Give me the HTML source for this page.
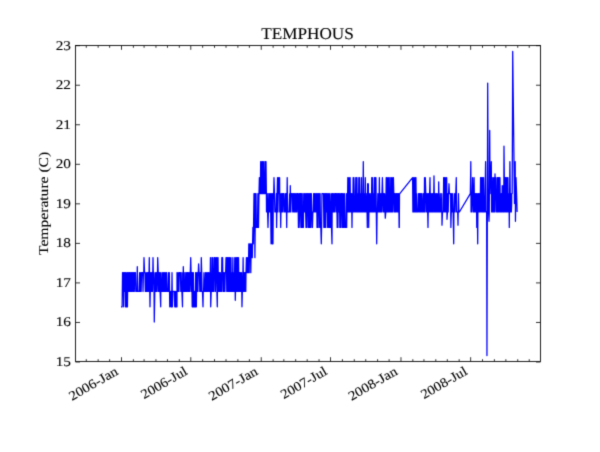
<!DOCTYPE html>
<html><head><meta charset="utf-8"><title>TEMPHOUS</title>
<style>
html,body{margin:0;padding:0;background:#fff;}
body{width:600px;height:452px;overflow:hidden;}
svg{display:block;}
text{text-rendering:geometricPrecision;font-family:"Liberation Serif",serif;font-size:13.4px;fill:#000;stroke:#000;stroke-width:0.1px;}
.tk{stroke:#000;stroke-width:0.8;}
.fr{fill:none;stroke:#111;stroke-width:0.92;}
.dl{fill:none;stroke:#0000ff;stroke-width:1.25;stroke-linejoin:round;stroke-linecap:butt;}
</style></head><body>
<svg width="600" height="452" viewBox="0 0 600 452">
<defs><filter id="sf" x="0" y="0" width="600" height="452" filterUnits="userSpaceOnUse"><feConvolveMatrix order="3" kernelMatrix="0.0169 0.0962 0.0169 0.0962 0.5476 0.0962 0.0169 0.0962 0.0169" divisor="1" edgeMode="duplicate" preserveAlpha="false"/></filter></defs>
<rect x="0" y="0" width="600" height="452" fill="#ffffff"/>
<g filter="url(#sf)">
<path class="dl" d="M121.00,306.79 L121.38,306.79 L121.76,306.79 L122.14,306.79 L122.52,272.62 L122.90,272.62 L123.28,272.62 L123.66,306.79 L124.04,272.62 L124.42,272.62 L124.80,291.39 L125.18,272.62 L125.56,306.79 L125.94,272.62 L126.32,306.79 L126.70,306.79 L127.08,272.62 L127.46,306.79 L127.84,272.62 L128.22,291.39 L128.60,272.62 L128.98,291.39 L129.36,272.62 L129.74,272.62 L130.12,291.39 L130.50,272.62 L130.88,291.39 L131.26,272.62 L131.64,291.39 L132.02,272.62 L132.40,272.62 L132.78,291.39 L133.16,272.62 L133.54,291.39 L133.92,272.62 L134.30,291.39 L134.68,272.62 L135.06,272.62 L135.44,272.62 L135.82,291.39 L136.20,291.39 L136.58,291.39 L136.96,291.39 L137.30,266.70 L137.72,291.39 L138.10,291.39 L138.48,291.39 L138.86,291.39 L139.24,291.39 L139.62,272.62 L140.00,291.39 L140.38,291.39 L140.76,272.62 L141.14,291.39 L141.52,272.62 L141.90,272.62 L142.28,272.62 L142.66,272.62 L143.04,291.39 L143.42,272.62 L143.80,272.62 L144.00,257.62 L144.56,272.62 L144.94,272.62 L145.32,291.39 L145.70,291.39 L146.08,272.62 L146.46,291.39 L146.84,291.39 L147.22,272.62 L147.60,291.39 L147.98,272.62 L148.36,272.62 L148.74,291.39 L149.30,257.62 L149.50,272.62 L150.00,306.79 L150.26,291.39 L150.64,272.62 L151.02,291.39 L151.40,272.62 L151.78,291.39 L152.16,272.62 L152.54,291.39 L153.00,257.62 L153.30,272.62 L153.68,272.62 L154.06,291.39 L154.30,322.00 L154.82,291.39 L155.20,272.62 L155.58,291.39 L155.96,291.39 L156.34,272.62 L156.72,291.39 L157.10,291.39 L157.48,272.62 L157.70,257.62 L158.24,272.62 L158.62,291.39 L159.00,272.62 L159.38,291.39 L159.76,272.62 L160.14,291.39 L160.70,306.79 L160.90,272.62 L161.28,291.39 L161.66,291.39 L162.04,291.39 L162.42,272.62 L162.80,291.39 L163.18,291.39 L163.56,272.62 L163.94,291.39 L164.32,272.62 L164.70,291.39 L165.08,272.62 L165.46,291.39 L165.84,291.39 L166.22,272.62 L166.60,272.62 L166.98,291.39 L167.36,291.39 L167.74,291.39 L168.12,291.39 L168.50,272.62 L168.88,291.39 L169.00,291.39 L169.30,272.62 L169.76,306.79 L170.14,306.79 L170.52,291.39 L170.90,291.39 L171.28,306.79 L171.66,306.79 L172.00,272.62 L172.42,306.79 L172.80,291.39 L173.18,291.39 L173.56,291.39 L173.94,291.39 L174.32,291.39 L174.70,306.79 L175.08,291.39 L175.46,306.79 L175.84,291.39 L176.22,306.79 L176.60,291.39 L176.98,306.79 L177.00,272.62 L177.38,291.39 L177.76,291.39 L178.14,272.62 L178.52,291.39 L178.90,291.39 L179.28,272.62 L179.66,272.62 L180.04,272.62 L180.42,272.62 L180.80,291.39 L181.18,272.62 L181.56,291.39 L181.94,291.39 L182.50,306.79 L182.70,272.62 L183.08,291.39 L183.30,266.70 L183.84,291.39 L184.22,272.62 L184.60,291.39 L184.98,291.39 L185.36,291.39 L185.74,272.62 L186.12,291.39 L186.50,272.62 L186.88,291.39 L187.26,272.62 L187.64,272.62 L188.02,291.39 L188.40,272.62 L188.78,291.39 L189.16,272.62 L189.54,291.39 L189.92,291.39 L190.30,272.62 L190.70,257.62 L191.06,272.62 L191.44,291.39 L191.82,272.62 L192.20,306.79 L192.58,272.62 L192.96,306.79 L193.34,272.62 L193.72,306.79 L194.10,306.79 L194.48,291.39 L194.86,306.79 L195.24,306.79 L195.62,272.62 L196.00,306.79 L196.38,306.79 L196.76,272.62 L197.14,272.62 L197.52,291.39 L197.90,291.39 L198.28,272.62 L198.60,263.94 L199.04,272.62 L199.42,272.62 L199.80,291.39 L200.18,272.62 L200.56,272.62 L200.94,291.39 L201.30,257.62 L201.70,272.62 L202.08,291.39 L202.46,291.39 L203.00,306.79 L203.22,291.39 L203.60,291.39 L203.98,272.62 L204.36,291.39 L204.74,291.39 L205.12,291.39 L205.50,272.62 L205.88,291.39 L206.26,291.39 L206.64,272.62 L207.02,291.39 L207.40,272.62 L207.78,291.39 L208.16,291.39 L208.54,272.62 L208.92,272.62 L209.30,291.39 L209.68,272.62 L210.06,291.39 L210.44,257.62 L210.70,306.79 L211.20,291.39 L211.58,291.39 L211.96,257.62 L212.34,291.39 L212.72,257.62 L213.10,291.39 L213.48,291.39 L213.86,291.39 L214.24,257.62 L214.62,257.62 L215.00,257.62 L215.38,291.39 L215.76,272.62 L216.14,257.62 L216.52,257.62 L216.90,291.39 L217.30,306.79 L217.66,257.62 L218.04,257.62 L218.42,291.39 L218.80,291.39 L219.18,272.62 L219.56,291.39 L219.94,272.62 L220.32,272.62 L220.70,291.39 L221.08,291.39 L221.46,291.39 L221.84,257.62 L222.22,257.62 L222.60,257.62 L222.98,291.39 L223.36,291.39 L223.74,272.62 L224.12,291.39 L224.50,272.62 L224.88,291.39 L225.26,272.62 L225.64,272.62 L226.02,257.62 L226.40,257.62 L226.78,291.39 L227.16,257.62 L227.54,257.62 L227.92,291.39 L228.30,257.62 L228.68,291.39 L229.06,257.62 L229.44,291.39 L229.82,257.62 L230.20,291.39 L230.58,291.39 L230.96,257.62 L231.34,291.39 L231.72,272.62 L232.10,291.39 L232.48,291.39 L232.86,257.62 L233.24,291.39 L233.62,272.62 L234.00,291.39 L234.38,291.39 L234.76,257.62 L235.30,300.27 L235.52,291.39 L235.90,257.62 L236.28,291.39 L236.66,257.62 L237.04,291.39 L237.42,257.62 L237.80,257.62 L238.18,291.39 L238.56,257.62 L238.94,291.39 L239.32,272.62 L239.70,272.62 L240.08,291.39 L240.46,272.62 L240.84,291.39 L241.22,291.39 L241.60,272.62 L241.98,306.79 L242.36,291.39 L242.74,291.39 L243.12,257.62 L243.50,291.39 L243.88,272.62 L244.26,272.62 L244.64,291.39 L245.02,272.62 L245.40,272.62 L245.78,291.39 L246.00,272.62 L246.40,257.62 L246.80,272.62 L247.20,257.62 L247.60,272.62 L248.00,257.62 L248.40,272.62 L248.80,243.79 L249.20,272.62 L249.60,243.79 L250.00,257.62 L250.40,243.79 L250.80,272.62 L251.20,243.79 L251.60,257.62 L252.00,243.79 L252.30,257.62 L252.90,227.40 L253.30,243.79 L254.00,193.62 L254.30,227.40 L254.50,193.62 L254.90,257.62 L255.50,193.62 L256.00,193.62 L256.38,227.40 L256.76,227.40 L257.14,227.40 L257.50,227.40 L257.90,193.62 L258.28,227.40 L258.50,227.40 L259.00,193.62 L259.38,177.63 L259.76,193.62 L260.14,177.63 L260.30,193.62 L260.68,161.63 L261.06,161.63 L261.44,193.62 L261.82,193.62 L262.20,161.63 L262.58,193.62 L262.96,161.63 L263.34,161.63 L263.72,193.62 L264.10,193.62 L264.48,193.62 L264.86,161.63 L265.24,161.63 L265.62,193.62 L266.00,161.63 L266.38,193.62 L266.50,211.99 L266.88,193.62 L267.26,193.62 L267.64,211.99 L268.00,227.40 L268.40,211.99 L268.78,193.62 L269.16,211.99 L269.54,211.99 L269.92,193.62 L270.30,193.62 L270.68,211.99 L271.06,243.79 L271.44,193.62 L271.82,211.99 L272.20,243.79 L272.58,193.62 L272.96,243.79 L273.34,193.62 L273.72,193.62 L274.00,177.63 L274.48,193.62 L274.86,211.99 L275.24,211.99 L275.62,211.99 L276.00,211.99 L276.38,193.62 L276.60,227.40 L277.14,193.62 L277.50,177.63 L277.90,211.99 L278.28,193.62 L278.60,177.63 L279.04,193.62 L279.60,177.63 L279.80,211.99 L280.18,193.62 L280.70,227.40 L280.94,211.99 L281.32,193.62 L281.70,211.99 L282.08,193.62 L282.46,193.62 L282.84,211.99 L283.22,193.62 L283.60,193.62 L283.98,193.62 L284.36,211.99 L284.74,211.99 L285.12,211.99 L285.50,193.62 L285.88,211.99 L286.26,193.62 L286.70,227.40 L287.20,177.63 L287.40,193.62 L287.78,211.99 L288.16,211.99 L288.54,211.99 L288.92,211.99 L289.30,211.99 L289.68,193.62 L290.06,211.99 L290.30,185.73 L290.82,211.99 L291.20,193.62 L291.58,193.62 L291.96,193.62 L292.34,193.62 L292.72,211.99 L293.10,211.99 L293.48,193.62 L293.86,193.62 L294.24,211.99 L294.62,193.62 L295.00,211.99 L295.38,193.62 L295.76,211.99 L296.14,211.99 L296.52,193.62 L296.90,211.99 L297.28,193.62 L297.66,193.62 L298.04,193.62 L298.42,227.40 L298.80,211.99 L299.18,193.62 L299.56,193.62 L299.94,227.40 L300.32,193.62 L300.70,193.62 L301.08,193.62 L301.46,227.40 L301.84,193.62 L302.22,193.62 L302.60,227.40 L302.98,227.40 L303.36,227.40 L303.74,193.62 L304.12,211.99 L304.50,193.62 L304.88,211.99 L305.26,193.62 L305.64,211.99 L306.02,227.40 L306.40,193.62 L306.78,227.40 L307.16,193.62 L307.54,211.99 L307.92,193.62 L308.30,227.40 L308.68,193.62 L309.06,227.40 L309.44,193.62 L309.82,227.40 L310.20,193.62 L310.58,227.40 L310.96,193.62 L311.34,193.62 L311.72,211.99 L312.10,227.40 L312.48,227.40 L312.86,211.99 L313.24,211.99 L313.62,193.62 L314.00,211.99 L314.38,193.62 L314.76,193.62 L315.14,211.99 L315.52,211.99 L315.90,193.62 L316.28,211.99 L316.66,193.62 L317.04,227.40 L317.42,193.62 L317.80,227.40 L318.18,227.40 L318.56,193.62 L318.94,193.62 L319.32,193.62 L319.70,227.40 L320.08,193.62 L320.46,227.40 L320.84,227.40 L321.30,243.79 L321.60,227.40 L321.98,193.62 L322.36,193.62 L322.74,193.62 L323.12,193.62 L323.50,193.62 L323.88,227.40 L324.26,193.62 L324.64,227.40 L325.02,193.62 L325.40,193.62 L325.78,227.40 L326.16,193.62 L326.54,211.99 L326.92,193.62 L327.30,193.62 L327.68,227.40 L328.06,211.99 L328.44,193.62 L328.82,227.40 L329.20,227.40 L329.58,193.62 L329.96,227.40 L330.34,227.40 L330.72,211.99 L331.10,193.62 L331.48,227.40 L332.00,243.79 L332.24,193.62 L332.62,193.62 L333.00,211.99 L333.38,193.62 L333.76,211.99 L334.14,211.99 L334.52,193.62 L334.90,211.99 L335.28,193.62 L335.66,193.62 L336.04,193.62 L336.42,211.99 L336.80,193.62 L337.18,227.40 L337.56,193.62 L337.94,227.40 L338.32,193.62 L338.70,193.62 L339.08,211.99 L339.46,193.62 L339.84,227.40 L340.22,193.62 L340.60,227.40 L340.98,227.40 L341.36,193.62 L341.74,193.62 L342.12,193.62 L342.50,227.40 L342.88,193.62 L343.26,227.40 L343.64,227.40 L344.02,193.62 L344.40,193.62 L344.78,227.40 L345.16,227.40 L345.54,227.40 L345.92,227.40 L346.30,193.62 L346.68,227.40 L347.06,193.62 L347.44,211.99 L347.82,177.63 L348.20,211.99 L348.58,211.99 L348.96,177.63 L349.34,211.99 L349.72,211.99 L350.10,177.63 L350.48,211.99 L350.86,211.99 L351.24,193.62 L351.62,193.62 L352.00,227.40 L352.38,193.62 L352.76,211.99 L353.14,177.63 L353.52,211.99 L353.90,177.63 L354.28,193.62 L354.66,211.99 L355.04,211.99 L355.42,211.99 L355.80,177.63 L356.18,177.63 L356.56,211.99 L356.94,177.63 L357.32,211.99 L357.70,211.99 L358.08,193.62 L358.46,211.99 L358.84,177.63 L359.22,211.99 L359.60,177.63 L359.98,211.99 L360.36,193.62 L360.74,211.99 L361.12,211.99 L361.50,177.63 L361.88,211.99 L362.26,193.62 L362.64,211.99 L363.02,193.62 L363.30,161.63 L363.78,211.99 L364.16,211.99 L364.54,193.62 L364.92,211.99 L365.30,177.63 L365.68,211.99 L366.06,211.99 L366.44,211.99 L366.82,193.62 L367.30,227.40 L367.58,183.75 L367.96,211.99 L368.34,183.75 L368.70,227.40 L369.10,193.62 L369.48,211.99 L369.86,211.99 L370.24,193.62 L370.62,211.99 L371.00,211.99 L371.38,211.99 L371.76,177.63 L372.14,211.99 L372.52,177.63 L372.90,211.99 L373.28,211.99 L373.66,193.62 L374.04,211.99 L374.42,177.63 L374.80,177.63 L375.18,211.99 L375.56,177.63 L375.94,177.63 L376.32,211.99 L376.70,243.79 L377.08,211.99 L377.46,211.99 L377.84,193.62 L378.22,211.99 L378.60,193.62 L378.98,211.99 L379.36,177.63 L379.74,211.99 L380.12,193.62 L380.50,211.99 L380.88,193.62 L381.26,211.99 L381.64,211.99 L382.02,193.62 L382.40,177.63 L382.78,193.62 L383.16,211.99 L383.54,193.62 L383.92,211.99 L384.30,211.99 L384.68,193.62 L385.06,211.99 L385.30,218.12 L385.82,211.99 L386.20,177.63 L386.58,211.99 L386.96,177.63 L387.34,211.99 L387.72,211.99 L388.10,177.63 L388.48,211.99 L388.86,193.62 L389.24,177.63 L389.62,211.99 L390.00,193.62 L390.38,211.99 L390.76,177.63 L391.14,211.99 L391.52,211.99 L391.90,177.63 L392.28,211.99 L392.66,211.99 L393.04,177.63 L393.42,177.63 L393.80,193.62 L394.18,211.99 L394.56,193.62 L394.94,211.99 L395.32,193.62 L395.70,211.99 L396.08,211.99 L396.46,193.62 L396.84,193.62 L397.22,211.99 L397.60,193.62 L397.98,211.99 L398.36,193.62 L398.74,193.62 L399.12,227.40 L399.30,227.40 L399.50,193.62 L399.80,193.62 L412.60,177.63 L412.88,211.99 L413.26,211.99 L413.64,177.63 L414.02,211.99 L414.40,211.99 L414.78,177.63 L415.16,177.63 L415.54,211.99 L415.92,177.63 L416.30,211.99 L416.68,193.62 L417.06,211.99 L417.44,211.99 L417.82,211.99 L418.20,211.99 L418.58,193.62 L418.96,193.62 L419.34,211.99 L419.72,193.62 L420.10,193.62 L420.48,211.99 L420.86,193.62 L421.24,211.99 L421.62,193.62 L422.00,193.62 L422.38,211.99 L422.76,211.99 L423.14,211.99 L423.52,193.62 L423.90,193.62 L424.28,211.99 L424.50,177.63 L425.04,211.99 L425.30,177.63 L425.80,193.62 L426.18,193.62 L426.56,211.99 L426.94,193.62 L427.32,193.62 L427.70,211.99 L428.00,227.40 L428.46,193.62 L428.84,193.62 L429.22,211.99 L429.60,193.62 L430.00,177.63 L430.36,211.99 L430.74,211.99 L431.12,193.62 L431.50,211.99 L431.88,211.99 L432.26,193.62 L432.64,211.99 L433.02,193.62 L433.40,211.99 L433.78,193.62 L434.00,175.85 L434.54,211.99 L434.92,193.62 L435.30,211.99 L435.68,211.99 L436.06,193.62 L436.44,211.99 L436.82,193.62 L437.20,211.99 L437.58,211.99 L437.96,193.62 L438.34,211.99 L438.70,181.77 L439.10,211.99 L439.48,211.99 L439.86,211.99 L440.24,193.62 L440.62,211.99 L441.00,211.99 L441.38,211.99 L441.76,193.62 L442.00,225.23 L442.52,211.99 L442.90,211.99 L443.28,211.99 L443.66,177.63 L444.04,177.63 L444.42,211.99 L444.80,177.63 L445.18,193.62 L445.56,211.99 L445.94,177.63 L446.32,211.99 L446.70,177.63 L447.00,219.30 L447.46,211.99 L447.84,193.62 L448.22,211.99 L448.60,193.62 L449.00,183.75 L449.36,193.62 L449.74,193.62 L450.12,193.62 L450.50,193.62 L450.88,227.40 L451.26,211.99 L451.64,193.62 L452.02,211.99 L452.40,193.62 L452.78,211.99 L453.16,211.99 L453.70,243.79 L453.92,211.99 L454.30,193.62 L454.68,211.99 L455.06,211.99 L455.44,193.62 L455.82,193.62 L456.30,177.63 L456.58,211.99 L456.96,211.99 L457.34,211.99 L457.72,211.99 L458.00,225.23 L458.48,193.62 L458.86,211.99 L459.40,211.99 L470.35,193.62 L470.80,161.63 L471.06,211.99 L471.44,193.62 L471.82,211.99 L472.20,193.62 L472.58,177.63 L472.96,193.62 L473.34,211.99 L473.72,211.99 L474.10,177.63 L474.48,211.99 L474.86,211.99 L475.24,193.62 L475.62,211.99 L476.00,193.62 L476.38,193.62 L476.76,227.40 L477.14,193.62 L477.70,243.79 L477.90,211.99 L478.28,193.62 L478.66,193.62 L479.04,211.99 L479.42,193.62 L479.80,211.99 L480.18,211.99 L480.56,177.63 L480.94,177.63 L481.32,211.99 L481.70,177.63 L482.08,177.63 L482.46,211.99 L482.84,177.63 L483.22,211.99 L483.60,177.63 L483.98,211.99 L484.36,211.99 L484.74,211.99 L485.12,193.62 L485.60,161.63 L485.88,211.99 L486.26,211.99 L486.64,211.99 L486.95,355.57 L487.40,193.62 L487.70,83.02 L488.16,193.62 L488.54,211.99 L489.00,221.27 L489.30,211.99 L489.70,130.42 L490.06,193.62 L490.44,177.63 L490.82,177.63 L491.30,161.63 L491.58,211.99 L491.96,211.99 L492.34,211.99 L492.72,177.63 L493.10,211.99 L493.48,211.99 L493.86,177.63 L494.24,211.99 L494.62,211.99 L495.00,173.88 L495.38,193.62 L495.76,177.63 L496.14,211.99 L496.52,211.99 L496.90,211.99 L497.28,177.63 L497.66,211.99 L498.04,177.63 L498.42,211.99 L498.80,177.63 L499.18,211.99 L499.56,177.63 L499.94,177.63 L500.32,211.99 L500.70,193.62 L501.08,211.99 L501.46,193.62 L501.84,211.99 L502.22,185.73 L502.60,193.62 L502.98,211.99 L503.36,185.73 L503.74,211.99 L504.00,146.23 L504.50,193.62 L504.88,211.99 L505.26,177.63 L505.64,177.63 L506.02,211.99 L506.40,177.63 L506.78,211.99 L507.16,211.99 L507.54,177.63 L507.92,177.63 L508.30,211.99 L508.68,211.99 L509.06,193.62 L509.30,227.40 L509.90,161.63 L510.20,193.62 L510.58,211.99 L510.96,193.62 L511.34,211.99 L511.70,203.50 L511.72,193.62 L512.20,193.62 L512.70,51.42 L514.50,203.50 L515.20,161.63 L515.45,221.27 L516.00,177.63 L516.60,193.62 L517.10,211.99"/>
<rect class="fr" x="75.5" y="45.5" width="465.0" height="316.0"/>
<line class="tk" x1="86.28" y1="361.50" x2="86.28" y2="359.20"/>
<line class="tk" x1="86.28" y1="45.50" x2="86.28" y2="47.80"/>
<line class="tk" x1="98.15" y1="361.50" x2="98.15" y2="359.20"/>
<line class="tk" x1="98.15" y1="45.50" x2="98.15" y2="47.80"/>
<line class="tk" x1="109.63" y1="361.50" x2="109.63" y2="359.20"/>
<line class="tk" x1="109.63" y1="45.50" x2="109.63" y2="47.80"/>
<line class="tk" x1="121.50" y1="361.50" x2="121.50" y2="357.20"/>
<line class="tk" x1="121.50" y1="45.50" x2="121.50" y2="49.80"/>
<line class="tk" x1="133.37" y1="361.50" x2="133.37" y2="359.20"/>
<line class="tk" x1="133.37" y1="45.50" x2="133.37" y2="47.80"/>
<line class="tk" x1="144.09" y1="361.50" x2="144.09" y2="359.20"/>
<line class="tk" x1="144.09" y1="45.50" x2="144.09" y2="47.80"/>
<line class="tk" x1="155.96" y1="361.50" x2="155.96" y2="359.20"/>
<line class="tk" x1="155.96" y1="45.50" x2="155.96" y2="47.80"/>
<line class="tk" x1="167.44" y1="361.50" x2="167.44" y2="359.20"/>
<line class="tk" x1="167.44" y1="45.50" x2="167.44" y2="47.80"/>
<line class="tk" x1="179.31" y1="361.50" x2="179.31" y2="359.20"/>
<line class="tk" x1="179.31" y1="45.50" x2="179.31" y2="47.80"/>
<line class="tk" x1="190.79" y1="361.50" x2="190.79" y2="357.20"/>
<line class="tk" x1="190.79" y1="45.50" x2="190.79" y2="49.80"/>
<line class="tk" x1="202.66" y1="361.50" x2="202.66" y2="359.20"/>
<line class="tk" x1="202.66" y1="45.50" x2="202.66" y2="47.80"/>
<line class="tk" x1="214.53" y1="361.50" x2="214.53" y2="359.20"/>
<line class="tk" x1="214.53" y1="45.50" x2="214.53" y2="47.80"/>
<line class="tk" x1="226.02" y1="361.50" x2="226.02" y2="359.20"/>
<line class="tk" x1="226.02" y1="45.50" x2="226.02" y2="47.80"/>
<line class="tk" x1="237.88" y1="361.50" x2="237.88" y2="359.20"/>
<line class="tk" x1="237.88" y1="45.50" x2="237.88" y2="47.80"/>
<line class="tk" x1="249.37" y1="361.50" x2="249.37" y2="359.20"/>
<line class="tk" x1="249.37" y1="45.50" x2="249.37" y2="47.80"/>
<line class="tk" x1="261.24" y1="361.50" x2="261.24" y2="357.20"/>
<line class="tk" x1="261.24" y1="45.50" x2="261.24" y2="49.80"/>
<line class="tk" x1="273.11" y1="361.50" x2="273.11" y2="359.20"/>
<line class="tk" x1="273.11" y1="45.50" x2="273.11" y2="47.80"/>
<line class="tk" x1="283.83" y1="361.50" x2="283.83" y2="359.20"/>
<line class="tk" x1="283.83" y1="45.50" x2="283.83" y2="47.80"/>
<line class="tk" x1="295.69" y1="361.50" x2="295.69" y2="359.20"/>
<line class="tk" x1="295.69" y1="45.50" x2="295.69" y2="47.80"/>
<line class="tk" x1="307.18" y1="361.50" x2="307.18" y2="359.20"/>
<line class="tk" x1="307.18" y1="45.50" x2="307.18" y2="47.80"/>
<line class="tk" x1="319.05" y1="361.50" x2="319.05" y2="359.20"/>
<line class="tk" x1="319.05" y1="45.50" x2="319.05" y2="47.80"/>
<line class="tk" x1="330.53" y1="361.50" x2="330.53" y2="357.20"/>
<line class="tk" x1="330.53" y1="45.50" x2="330.53" y2="49.80"/>
<line class="tk" x1="342.40" y1="361.50" x2="342.40" y2="359.20"/>
<line class="tk" x1="342.40" y1="45.50" x2="342.40" y2="47.80"/>
<line class="tk" x1="354.27" y1="361.50" x2="354.27" y2="359.20"/>
<line class="tk" x1="354.27" y1="45.50" x2="354.27" y2="47.80"/>
<line class="tk" x1="365.75" y1="361.50" x2="365.75" y2="359.20"/>
<line class="tk" x1="365.75" y1="45.50" x2="365.75" y2="47.80"/>
<line class="tk" x1="377.62" y1="361.50" x2="377.62" y2="359.20"/>
<line class="tk" x1="377.62" y1="45.50" x2="377.62" y2="47.80"/>
<line class="tk" x1="389.11" y1="361.50" x2="389.11" y2="359.20"/>
<line class="tk" x1="389.11" y1="45.50" x2="389.11" y2="47.80"/>
<line class="tk" x1="400.97" y1="361.50" x2="400.97" y2="357.20"/>
<line class="tk" x1="400.97" y1="45.50" x2="400.97" y2="49.80"/>
<line class="tk" x1="412.84" y1="361.50" x2="412.84" y2="359.20"/>
<line class="tk" x1="412.84" y1="45.50" x2="412.84" y2="47.80"/>
<line class="tk" x1="423.95" y1="361.50" x2="423.95" y2="359.20"/>
<line class="tk" x1="423.95" y1="45.50" x2="423.95" y2="47.80"/>
<line class="tk" x1="435.81" y1="361.50" x2="435.81" y2="359.20"/>
<line class="tk" x1="435.81" y1="45.50" x2="435.81" y2="47.80"/>
<line class="tk" x1="447.30" y1="361.50" x2="447.30" y2="359.20"/>
<line class="tk" x1="447.30" y1="45.50" x2="447.30" y2="47.80"/>
<line class="tk" x1="459.17" y1="361.50" x2="459.17" y2="359.20"/>
<line class="tk" x1="459.17" y1="45.50" x2="459.17" y2="47.80"/>
<line class="tk" x1="470.65" y1="361.50" x2="470.65" y2="357.20"/>
<line class="tk" x1="470.65" y1="45.50" x2="470.65" y2="49.80"/>
<line class="tk" x1="482.52" y1="361.50" x2="482.52" y2="359.20"/>
<line class="tk" x1="482.52" y1="45.50" x2="482.52" y2="47.80"/>
<line class="tk" x1="494.39" y1="361.50" x2="494.39" y2="359.20"/>
<line class="tk" x1="494.39" y1="45.50" x2="494.39" y2="47.80"/>
<line class="tk" x1="505.87" y1="361.50" x2="505.87" y2="359.20"/>
<line class="tk" x1="505.87" y1="45.50" x2="505.87" y2="47.80"/>
<line class="tk" x1="517.74" y1="361.50" x2="517.74" y2="359.20"/>
<line class="tk" x1="517.74" y1="45.50" x2="517.74" y2="47.80"/>
<line class="tk" x1="529.23" y1="361.50" x2="529.23" y2="359.20"/>
<line class="tk" x1="529.23" y1="45.50" x2="529.23" y2="47.80"/>
<line class="tk" x1="75.50" y1="362.00" x2="80.00" y2="362.00"/>
<line class="tk" x1="540.50" y1="362.00" x2="536.00" y2="362.00"/>
<line class="tk" x1="75.50" y1="322.46" x2="80.00" y2="322.46"/>
<line class="tk" x1="540.50" y1="322.46" x2="536.00" y2="322.46"/>
<line class="tk" x1="75.50" y1="282.92" x2="80.00" y2="282.92"/>
<line class="tk" x1="540.50" y1="282.92" x2="536.00" y2="282.92"/>
<line class="tk" x1="75.50" y1="243.38" x2="80.00" y2="243.38"/>
<line class="tk" x1="540.50" y1="243.38" x2="536.00" y2="243.38"/>
<line class="tk" x1="75.50" y1="203.84" x2="80.00" y2="203.84"/>
<line class="tk" x1="540.50" y1="203.84" x2="536.00" y2="203.84"/>
<line class="tk" x1="75.50" y1="164.30" x2="80.00" y2="164.30"/>
<line class="tk" x1="540.50" y1="164.30" x2="536.00" y2="164.30"/>
<line class="tk" x1="75.50" y1="124.76" x2="80.00" y2="124.76"/>
<line class="tk" x1="540.50" y1="124.76" x2="536.00" y2="124.76"/>
<line class="tk" x1="75.50" y1="85.22" x2="80.00" y2="85.22"/>
<line class="tk" x1="540.50" y1="85.22" x2="536.00" y2="85.22"/>
<line class="tk" x1="75.50" y1="45.68" x2="80.00" y2="45.68"/>
<line class="tk" x1="540.50" y1="45.68" x2="536.00" y2="45.68"/>
<text x="71" y="365.50" text-anchor="end" textLength="15.3" lengthAdjust="spacingAndGlyphs">15</text>
<text x="71" y="326.00" text-anchor="end" textLength="15.3" lengthAdjust="spacingAndGlyphs">16</text>
<text x="71" y="286.50" text-anchor="end" textLength="15.3" lengthAdjust="spacingAndGlyphs">17</text>
<text x="71" y="247.00" text-anchor="end" textLength="15.3" lengthAdjust="spacingAndGlyphs">18</text>
<text x="71" y="207.50" text-anchor="end" textLength="15.3" lengthAdjust="spacingAndGlyphs">19</text>
<text x="71" y="168.00" text-anchor="end" textLength="15.3" lengthAdjust="spacingAndGlyphs">20</text>
<text x="71" y="128.50" text-anchor="end" textLength="15.3" lengthAdjust="spacingAndGlyphs">21</text>
<text x="71" y="89.00" text-anchor="end" textLength="15.3" lengthAdjust="spacingAndGlyphs">22</text>
<text x="71" y="49.50" text-anchor="end" textLength="15.3" lengthAdjust="spacingAndGlyphs">23</text>
<text transform="translate(119.00,373.80) rotate(-30)" x="0" y="0" text-anchor="end" textLength="54.3" lengthAdjust="spacingAndGlyphs">2006-Jan</text>
<text transform="translate(188.29,373.80) rotate(-30)" x="0" y="0" text-anchor="end" textLength="51.0" lengthAdjust="spacingAndGlyphs">2006-Jul</text>
<text transform="translate(258.74,373.80) rotate(-30)" x="0" y="0" text-anchor="end" textLength="54.3" lengthAdjust="spacingAndGlyphs">2007-Jan</text>
<text transform="translate(328.03,373.80) rotate(-30)" x="0" y="0" text-anchor="end" textLength="51.0" lengthAdjust="spacingAndGlyphs">2007-Jul</text>
<text transform="translate(398.47,373.80) rotate(-30)" x="0" y="0" text-anchor="end" textLength="54.3" lengthAdjust="spacingAndGlyphs">2008-Jan</text>
<text transform="translate(468.15,373.80) rotate(-30)" x="0" y="0" text-anchor="end" textLength="51.0" lengthAdjust="spacingAndGlyphs">2008-Jul</text>
<text transform="translate(48,203.4) rotate(-90)" x="0" y="0" text-anchor="middle" textLength="103.2" lengthAdjust="spacingAndGlyphs" style="font-size:13.4px">Temperature (C)</text>
<text x="307.5" y="39.4" text-anchor="middle" textLength="92.6" lengthAdjust="spacingAndGlyphs" style="font-size:16.5px">TEMPHOUS</text>
</g>
</svg>
</body></html>
